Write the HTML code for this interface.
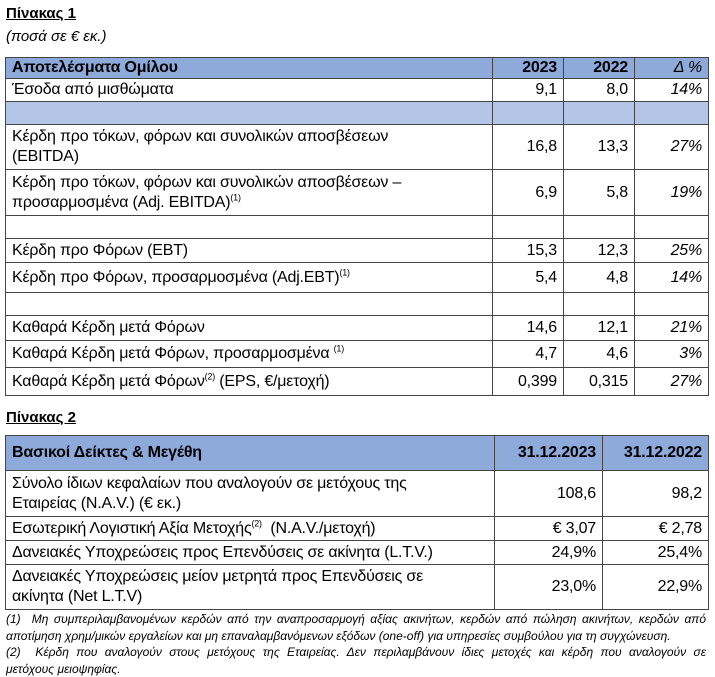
<!DOCTYPE html>
<html><head><meta charset="utf-8"><style>
body{margin:0;width:715px;height:677px;background:#fff;font-family:"Liberation Sans","DejaVu Sans",sans-serif;color:#000;position:relative;overflow:hidden}
.t{position:absolute;border-collapse:collapse;table-layout:fixed;font-size:16px;letter-spacing:-0.2px}
.t td{border:1px solid #444;padding:0 6px;line-height:20px;vertical-align:middle;overflow:hidden;white-space:nowrap}
.h td{background:#8eaadb;font-weight:bold}
.b td{background:#b4c6e7}
.r{text-align:right}
.i{font-style:italic}
sup{font-size:9px;line-height:0}
.ttl{position:absolute;left:6px;font-weight:bold;text-decoration:underline;font-size:15px}
.fn{position:absolute;left:6px;width:700px;font-size:12px;font-style:italic;line-height:16.5px;letter-spacing:0}
.fn div{text-align:justify;text-align-last:justify;white-space:nowrap}
.fn div.l{text-align-last:left}
</style></head><body>
<div class="ttl" style="top:5px">Πίνακας 1</div>
<div style="position:absolute;left:6px;top:28px;font-style:italic;font-size:15px">(ποσά σε € εκ.)</div>
<table class="t" style="left:5px;top:57px;width:703px">
<colgroup><col style="width:487px"><col style="width:71px"><col style="width:71px"><col style="width:74px"></colgroup>
<tr class="h" style="height:21px"><td>Αποτελέσματα Ομίλου</td><td class="r">2023</td><td class="r">2022</td><td class="r" style="font-weight:normal;font-style:italic">Δ %</td></tr>
<tr style="height:23px"><td>Έσοδα από μισθώματα</td><td class="r">9,1</td><td class="r">8,0</td><td class="r i">14%</td></tr>
<tr class="b" style="height:23px"><td></td><td></td><td></td><td></td></tr>
<tr style="height:45px"><td>Κέρδη προ τόκων, φόρων και συνολικών αποσβέσεων<br>(EBITDA)</td><td class="r">16,8</td><td class="r">13,3</td><td class="r i">27%</td></tr>
<tr style="height:46px"><td>Κέρδη προ τόκων, φόρων και συνολικών αποσβέσεων –<br>προσαρμοσμένα (Adj. EBITDA)<sup>(1)</sup></td><td class="r">6,9</td><td class="r">5,8</td><td class="r i">19%</td></tr>
<tr style="height:23px"><td></td><td></td><td></td><td></td></tr>
<tr style="height:24px"><td>Κέρδη προ Φόρων (EBT)</td><td class="r">15,3</td><td class="r">12,3</td><td class="r i">25%</td></tr>
<tr style="height:30px"><td>Κέρδη προ Φόρων, προσαρμοσμένα (Adj.EBT)<sup>(1)</sup></td><td class="r">5,4</td><td class="r">4,8</td><td class="r i">14%</td></tr>
<tr style="height:23px"><td></td><td></td><td></td><td></td></tr>
<tr style="height:25px"><td>Καθαρά Κέρδη μετά Φόρων</td><td class="r">14,6</td><td class="r">12,1</td><td class="r i">21%</td></tr>
<tr style="height:27px"><td>Καθαρά Κέρδη μετά Φόρων, προσαρμοσμένα <sup>(1)</sup></td><td class="r">4,7</td><td class="r">4,6</td><td class="r i">3%</td></tr>
<tr style="height:28px"><td>Καθαρά Κέρδη μετά Φόρων<sup>(2)</sup> (EPS, €/μετοχή)</td><td class="r">0,399</td><td class="r">0,315</td><td class="r i">27%</td></tr>
</table>
<div class="ttl" style="top:409px">Πίνακας 2</div>
<table class="t" style="left:5px;top:435px;width:703px">
<colgroup><col style="width:489px"><col style="width:108px"><col style="width:106px"></colgroup>
<tr class="h" style="height:35px"><td>Βασικοί Δείκτες &amp; Μεγέθη</td><td class="r">31.12.2023</td><td class="r">31.12.2022</td></tr>
<tr style="height:46px"><td>Σύνολο ίδιων κεφαλαίων που αναλογούν σε μετόχους της<br>Εταιρείας (N.A.V.) (€ εκ.)</td><td class="r">108,6</td><td class="r">98,2</td></tr>
<tr style="height:24px"><td>Εσωτερική Λογιστική Αξία Μετοχής<sup>(2)</sup>&nbsp; (N.A.V./μετοχή)</td><td class="r">€ 3,07</td><td class="r">€ 2,78</td></tr>
<tr style="height:24px"><td>Δανειακές Υποχρεώσεις προς Επενδύσεις σε ακίνητα (L.T.V.)</td><td class="r">24,9%</td><td class="r">25,4%</td></tr>
<tr style="height:45px"><td>Δανειακές Υποχρεώσεις μείον μετρητά προς Επενδύσεις σε<br>ακίνητα (Net L.T.V)</td><td class="r">23,0%</td><td class="r">22,9%</td></tr>
</table>
<div class="fn" style="top:611px">
<div>(1)&nbsp; Μη συμπεριλαμβανομένων κερδών από την αναπροσαρμογή αξίας ακινήτων, κερδών από πώληση ακινήτων, κερδών από</div>
<div class="l">αποτίμηση χρημ/μικών εργαλείων και μη επαναλαμβανόμενων εξόδων (one-off) για υπηρεσίες συμβούλου για τη συγχώνευση.</div>
<div>(2)&nbsp; Κέρδη που αναλογούν στους μετόχους της Εταιρείας. Δεν περιλαμβάνουν ίδιες μετοχές και κέρδη που αναλογούν σε</div>
<div class="l">μετόχους μειοψηφίας.</div>
</div>
</body></html>
